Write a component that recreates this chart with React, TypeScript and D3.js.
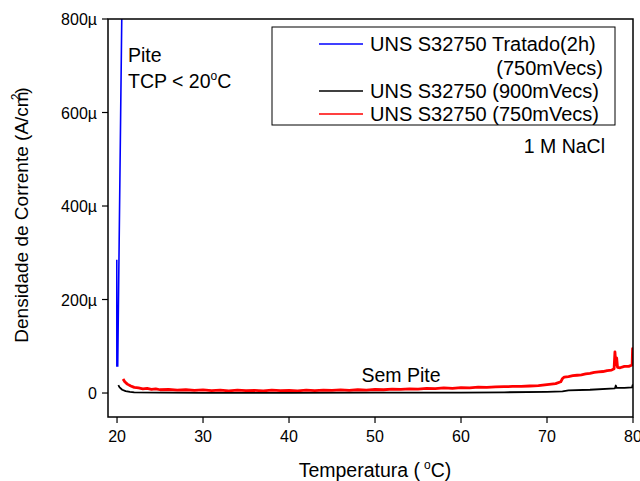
import React from "react";
import * as d3 from "d3";

// temperatura (°C), densidade de corrente (µA/cm²)
const treatedT = [19.97, 19.98, 20.08, 20.55, 20.6];
const treatedJ = [285, 58, 58, 800, 870];

const blackT = [20.15, 20.3, 20.6, 21, 21.5, 22, 25, 30, 40, 50, 60, 65, 70, 71.8, 72.5, 75, 77.9, 78, 78.1, 79, 79.9, 79.95, 80];
const blackJ = [17, 12, 7, 4, 2.5, 1.5, 0.8, 0.5, 0.5, 0.8, 1, 1.5, 2.5, 3.5, 5.5, 7, 10, 16, 11, 11, 12, 17, 13];

const redT = [20.7, 20.9, 21.2, 21.6, 22, 22.5, 23, 23.5, 24, 24.5, 25, 26, 27, 28, 29, 30, 31, 32, 33, 34, 35, 36, 37, 38, 39, 40, 41, 42, 43, 44, 45, 46, 47, 48, 49, 50, 51, 52, 53, 54, 55, 56, 57, 58, 59, 60, 61, 62, 63, 64, 65, 66, 67, 68, 69, 70, 71, 71.6, 71.8, 72, 72.5, 73, 73.5, 74, 74.5, 75, 75.5, 76, 76.5, 77, 77.5, 77.8, 77.9, 78, 78.1, 78.2, 78.5, 79, 79.5, 79.9, 79.95, 80];
const redJ = [30, 24, 19, 15, 12, 11, 9, 10, 8, 9, 7, 7.5, 6, 7, 5.5, 6.5, 5, 6, 4.5, 6, 5, 5.5, 4.5, 6, 5, 5.5, 4.5, 6, 5, 6, 5.5, 6.5, 5.5, 7, 6, 7.5, 7, 8.5, 8, 9, 8.5, 10, 9.5, 11, 10, 11.5, 11, 12.5, 12, 13, 13.5, 14, 14, 15, 16, 18, 20, 24, 31, 34, 35, 37, 38, 39, 41, 42, 44, 45, 46, 48, 49, 52, 88, 60, 75, 55, 54, 57, 57, 60, 95, 62];

const xTicks = [20, 30, 40, 50, 60, 70, 80];
const yTicks = [0, 200, 400, 600, 800];
const yTickLabels = ["0", "200µ", "400µ", "600µ", "800µ"];

const legendNames = ["UNS S32750 Tratado(2h)", "UNS S32750 (900mVecs)", "UNS S32750 (750mVecs)"];
const colors = ["#0000ff", "#000000", "#ff0000"];

const font = "'Liberation Sans', Arial, sans-serif";

export default function App() {
  const left = 108, right = 633, top = 19, bottom = 417;
  const x = d3.scaleLinear().domain([18.95, 80]).range([left, right]);
  const y = d3.scaleLinear().domain([-51.3, 800]).range([bottom, top]);

  const line = d3.line<[number, number]>().x((d) => x(d[0])).y((d) => y(d[1]));
  const zip = (a: number[], b: number[]) => a.map((v, i) => [v, b[i]] as [number, number]);

  return (
    <svg width={640} height={481} style={{ position: "absolute", left: 0, top: 0, background: "#fff" }} fontFamily={font}>
      <defs>
        <clipPath id="plot">
          <rect x={left} y={top} width={right - left} height={bottom - top} />
        </clipPath>
      </defs>

      <g clipPath="url(#plot)" fill="none">
        <path d={line(zip(redT, redJ)) || ""} stroke={colors[2]} strokeWidth={2.8} strokeLinejoin="round" />
        <path d={line(zip(blackT, blackJ)) || ""} stroke={colors[1]} strokeWidth={1.8} strokeLinejoin="round" />
        <path d={line(zip(treatedT, treatedJ)) || ""} stroke={colors[0]} strokeWidth={1.6} />
      </g>

      {/* frame */}
      <rect x={left} y={top} width={right - left} height={bottom - top} fill="none" stroke="#000" strokeWidth={1.5} />

      {/* y axis */}
      {yTicks.map((t, i) => (
        <g key={t}>
          <line x1={left - 6} x2={left} y1={y(t)} y2={y(t)} stroke="#000" strokeWidth={1.2} />
          <text x={left - 11} y={y(t) + 6} textAnchor="end" fontSize={16}>{yTickLabels[i]}</text>
        </g>
      ))}

      {/* x axis */}
      {xTicks.map((t) => (
        <g key={t}>
          <line x1={x(t)} x2={x(t)} y1={bottom} y2={bottom + 6} stroke="#000" strokeWidth={1.2} />
          <text x={x(t)} y={bottom + 25} textAnchor="middle" fontSize={16}>{t}</text>
        </g>
      ))}

      <text x={375} y={477} textAnchor="middle" fontSize={19.5}>
        Temperatura (
        <tspan dx={4} dy={-8} fontSize={12}>o</tspan>
        <tspan dy={8}>C)</tspan>
      </text>

      <text transform="translate(28,215) rotate(-90)" textAnchor="middle" fontSize={19}>
        Densidade de Corrente (A/cm
        <tspan dx={-9} dy={-8} fontSize={12}>2</tspan>
        <tspan dy={8}>)</tspan>
      </text>

      {/* annotations */}
      <text x={128} y={62} fontSize={19.5}>Pite</text>
      <text x={128} y={88} fontSize={19.5}>
        TCP &lt; 20
        <tspan dy={-8} fontSize={12}>o</tspan>
        <tspan dy={8}>C</tspan>
      </text>
      <text x={401} y={382} textAnchor="middle" fontSize={19.5}>Sem Pite</text>
      <text x={605} y={153} textAnchor="end" fontSize={19.5}>1 M NaCl</text>

      {/* legend */}
      <rect x={272} y={27} width={343} height={98} fill="#fff" stroke="#000" strokeWidth={1} />
      {[44, 91, 114].map((ly, i) => (
        <g key={i}>
          <line x1={319} x2={363} y1={ly} y2={ly} stroke={colors[i]} strokeWidth={1.5} />
          <text x={370} y={ly + 7} fontSize={20}>{legendNames[i]}</text>
        </g>
      ))}
      <text x={603} y={75} textAnchor="end" fontSize={20}>(750mVecs)</text>
    </svg>
  );
}
